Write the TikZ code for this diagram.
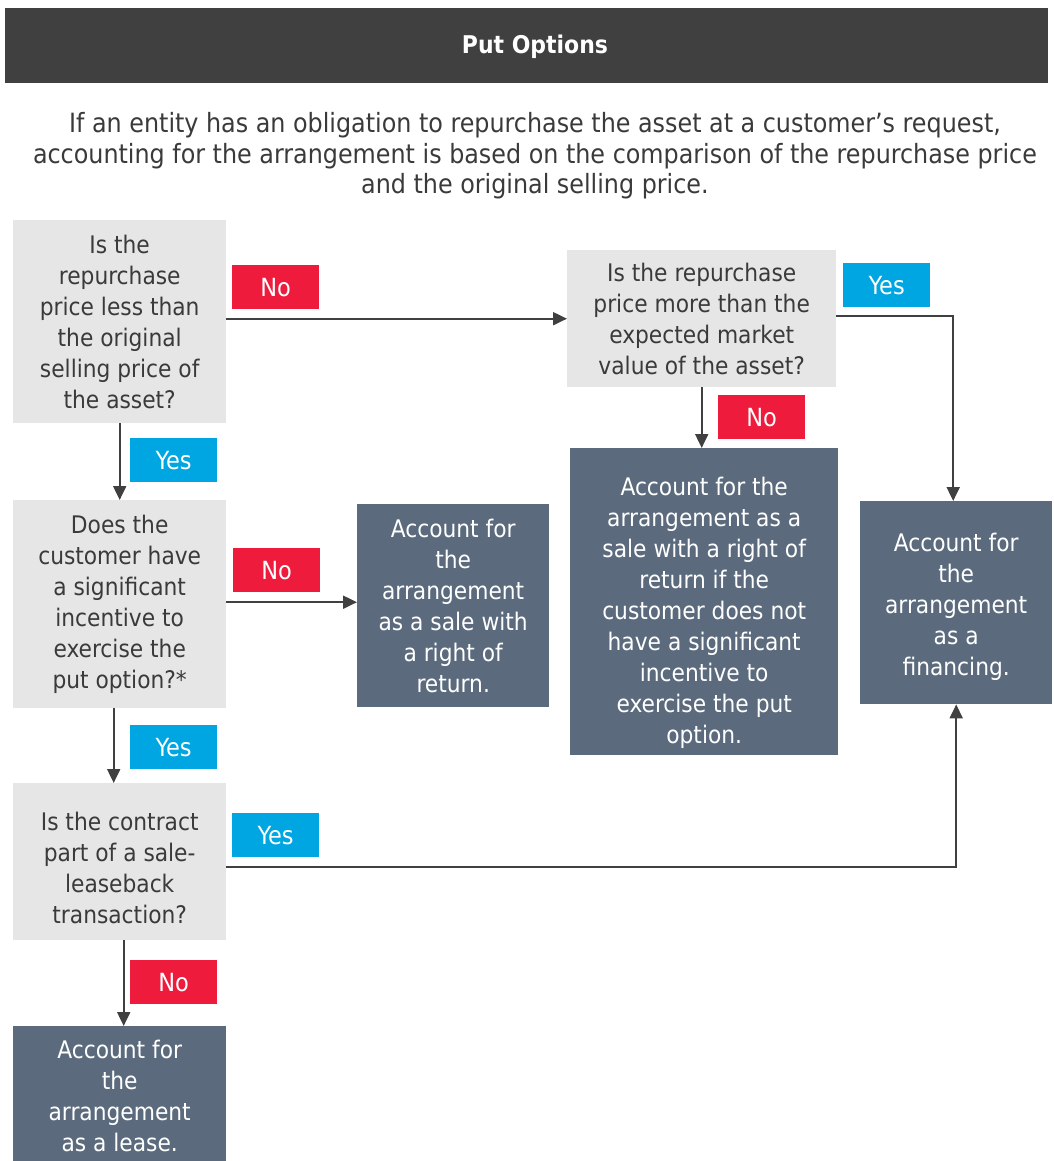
\documentclass[tikz,border=0pt]{standalone}
\usepackage{fontspec}
\setmainfont{DejaVu Sans Condensed}
\usetikzlibrary{arrows.meta,positioning}
\definecolor{titlebg}{HTML}{404040}
\definecolor{qfill}{HTML}{E6E6E6}
\definecolor{afill}{HTML}{5B6B7D}
\definecolor{nored}{HTML}{EE1B3D}
\definecolor{yesblue}{HTML}{00A6E1}
\definecolor{ink}{HTML}{3A3A3A}
\definecolor{wire}{HTML}{404040}
\begin{document}
\begin{tikzpicture}[x=1pt,y=-1pt,
  txt/.style={font=\fontsize{24.2}{31}\selectfont, align=center},
  question/.style={txt, fill=qfill, text=ink, inner sep=0pt, anchor=north west},
  answer/.style={txt, fill=afill, text=white, inner sep=0pt, anchor=north west},
  qtext/.style={txt, text=ink, inner sep=0pt},
  atext/.style={txt, text=white, inner sep=0pt},
  tag/.style={font=\fontsize{25}{28}\selectfont, text=white, inner sep=0pt,
    minimum width=87pt, minimum height=44pt, anchor=north west},
  notag/.style={tag, fill=nored},
  yestag/.style={tag, fill=yesblue},
  wireline/.style={draw=wire, line width=2pt},
  flow/.style={wireline, -{Triangle[length=14pt,width=13pt]}}
]
\useasboundingbox (0,0) rectangle (1053,1161);

% heading band and introduction
\node[fill=titlebg, minimum width=1043pt, minimum height=75pt, inner sep=0pt, anchor=north west]
  (title) at (5,8) {};
\node[font=\fontsize{24.4}{28}\selectfont\bfseries, text=white] (titletext) at (535,47) {Put Options};
\node[align=center, font=\fontsize{26.5}{30.5}\selectfont, text=ink] (intro) at (535,156)
  {If an entity has an obligation to repurchase the asset at a customer’s request,\\
   accounting for the arrangement is based on the comparison of the repurchase price\\
   and the original selling price.};

% decision boxes
\node[question, minimum width=213pt, minimum height=203pt] (q1) at (13,220)
  {Is the\\repurchase\\price less than\\the original\\selling price of\\the asset?};
\node[question, minimum width=269pt, minimum height=137pt] (q2) at (567,250)
  {Is the repurchase\\price more than the\\expected market\\value of the asset?};
\node[question, minimum width=213pt, minimum height=208pt] (q3) at (13,500)
  {Does the\\customer have\\a significant\\incentive to\\exercise the\\put option?*};
\node[question, minimum width=213pt, minimum height=157pt] (q4) at (13,783) {};
\node[qtext] (q4text) at ([yshift=-6pt]q4.center)
  {Is the contract\\part of a sale-\\leaseback\\transaction?};

% outcome boxes
\node[answer, minimum width=192pt, minimum height=203pt] (r1) at (357,504)
  {Account for\\the\\arrangement\\as a sale with\\a right of\\return.};
\node[answer, minimum width=268pt, minimum height=307pt] (r2) at (570,448) {};
\node[atext] (r2text) at ([yshift=-11pt]r2.center)
  {Account for the\\arrangement as a\\sale with a right of\\return if the\\customer does not\\have a significant\\incentive to\\exercise the put\\option.};
\node[answer, minimum width=192pt, minimum height=203pt] (fin) at (860,501) {};
\node[atext] (fintext) at ([yshift=-4pt]fin.center)
  {Account for\\the\\arrangement\\as a\\financing.};
\node[answer, minimum width=213pt, minimum height=140pt] (lease) at (13,1026)
  {Account for\\the\\arrangement\\as a lease.};

% connectors
\draw[flow] (q2.west -| q1.east) -- (q2.west);
\draw[flow] ([yshift=2.5pt]q2.east) -| ([xshift=-3pt]fin.north);
\draw[flow] (q2.south) -- (q2.south |- r2.north);
\draw[flow] (q1.south) -- (q3.north);
\draw[flow] ([yshift=2pt]q3.east) -- ([yshift=2pt]q3.east -| r1.west);
\draw[flow] ([xshift=-6pt]q3.south) -- ([xshift=-6pt]q4.north);
\draw[flow] ([yshift=-5.5pt]q4.east) -| (fin.south);
\draw[flow] ([xshift=4pt]q4.south) -- ([xshift=4pt]lease.north);

% branch tags
\node[notag] (no1) at (232,265) {No};
\node[yestag] (yes2) at (843,263) {Yes};
\node[notag] (no2) at (718,395) {No};
\node[yestag] (yes1) at (130,438) {Yes};
\node[notag] (no3) at (233,548) {No};
\node[yestag] (yes3) at (130,725) {Yes};
\node[yestag] (yes4) at (232,813) {Yes};
\node[notag] (no4) at (130,960) {No};
\end{tikzpicture}
\end{document}
